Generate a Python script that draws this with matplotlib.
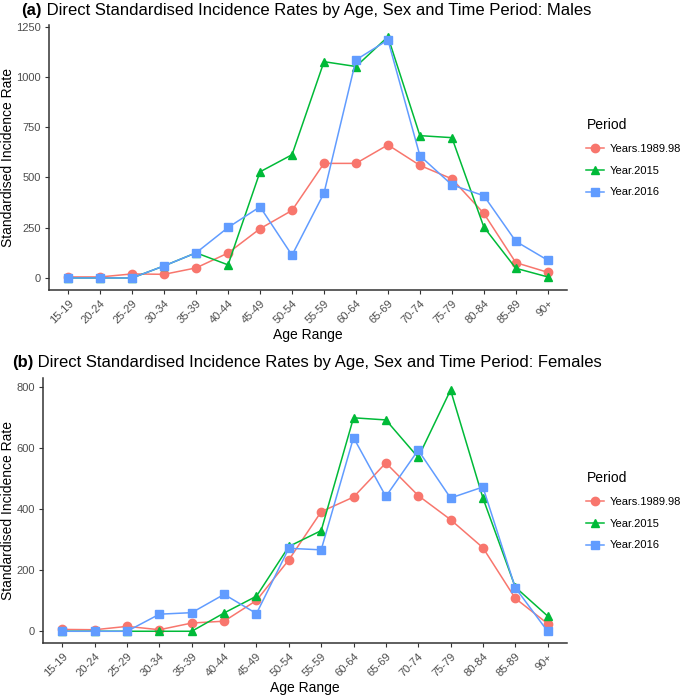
import numpy as np
import matplotlib
matplotlib.use("Agg")
import matplotlib.pyplot as plt

plt.rcParams['font.family'] = ['Liberation Sans', 'DejaVu Sans']

age_groups = ["15-19", "20-24", "25-29", "30-34", "35-39", "40-44", "45-49", "50-54",
              "55-59", "60-64", "65-69", "70-74", "75-79", "80-84", "85-89", "90+"]
periods = ["Years.1989.98", "Year.2015", "Year.2016"]

males_1989_98 = [5, 5, 20, 18, 50, 124, 245, 336, 570, 570, 662, 560, 493, 321, 76, 28]
males_2015 = [0, 0, 0, 60, 125, 65, 528, 613, 1076, 1052, 1200, 708, 698, 253, 48, 5]
males_2016 = [0, 0, 0, 60, 125, 251, 354, 113, 422, 1085, 1184, 608, 463, 409, 182, 88]

females_1989_98 = [6, 5, 16, 5, 27, 33, 101, 234, 392, 440, 552, 445, 366, 274, 108, 25]
females_2015 = [0, 0, 0, 0, 0, 60, 115, 278, 330, 700, 693, 570, 791, 437, 145, 50]
females_2016 = [0, 0, 0, 56, 61, 121, 58, 272, 267, 635, 442, 594, 437, 473, 143, 0]

colors = ["#F8766D", "#00BA38", "#619CFF"]
markers = ["o", "^", "s"]

W, H = 685, 697
fig = plt.figure(figsize=(W / 100, H / 100), dpi=100)


def px_axes(left, right, top, bottom):
    return fig.add_axes([left / W, 1 - bottom / H, (right - left) / W, (bottom - top) / H])


panels = [
    dict(box=(49, 567, 24.7, 290), data=[males_1989_98, males_2015, males_2016],
         ylim=(-60, 1260), yticks=[0, 250, 500, 750, 1000, 1250],
         tag="(a)", title=" Direct Standardised Incidence Rates by Age, Sex and Time Period: Males",
         tx=21, ty=10, leg_y=114),
    dict(box=(43, 567, 378, 643.3), data=[females_1989_98, females_2015, females_2016],
         ylim=(-39.5, 830.5), yticks=[0, 200, 400, 600, 800],
         tag="(b)", title=" Direct Standardised Incidence Rates by Age, Sex and Time Period: Females",
         tx=12, ty=362.7, leg_y=467),
]

x = np.arange(len(age_groups))
renderer = fig.canvas.get_renderer()

for p in panels:
    ax = px_axes(*p["box"])
    for vals, c, m, lab in zip(p["data"], colors, markers, periods):
        ax.plot(x, vals, color=c, marker=m, ms=6, lw=1.1, label=lab)
    ax.set_xlim(-0.6, len(age_groups) - 0.4)
    ax.set_ylim(*p["ylim"])
    ax.set_yticks(p["yticks"])
    ax.set_xticks(x)
    ax.set_xticklabels(age_groups, rotation=45, ha="right", rotation_mode="anchor")
    for s in ["top", "right"]:
        ax.spines[s].set_visible(False)
    for s in ["left", "bottom"]:
        ax.spines[s].set_linewidth(1.1)
        ax.spines[s].set_color("#333333")
    ax.tick_params(length=3, width=0.8, color="#333333", labelsize=8,
                   labelcolor="#4D4D4D", pad=3)
    ax.set_xlabel("Age Range", fontsize=10)
    ax.set_ylabel("Standardised Incidence Rate", fontsize=10)
    left, right, top, bottom = p["box"]
    ax.xaxis.set_label_coords(0.5, 1 - (bottom + 45 - top) / (bottom - top))
    ax.xaxis.label.set_va("center")
    ax.yaxis.set_label_coords((8 - left) / (right - left), 0.5)
    ax.yaxis.label.set_va("center")

    t1 = fig.text(p["tx"] / W, 1 - p["ty"] / H, p["tag"], fontsize=12, fontweight="bold",
                  ha="left", va="center")
    bb = t1.get_window_extent(renderer)
    fig.text(bb.x1 / W, 1 - p["ty"] / H, p["title"], fontsize=12, ha="left", va="center")

    leg = ax.legend(title="Period", loc="upper left",
                    bbox_to_anchor=(582 / W, 1 - p["leg_y"] / H),
                    bbox_transform=fig.transFigure, frameon=False,
                    fontsize=8, title_fontsize=10, handlelength=1.6,
                    handletextpad=0.45, labelspacing=1.05, borderaxespad=0)
    leg._legend_box.align = "left"

fig.savefig("out.png", dpi=100)
